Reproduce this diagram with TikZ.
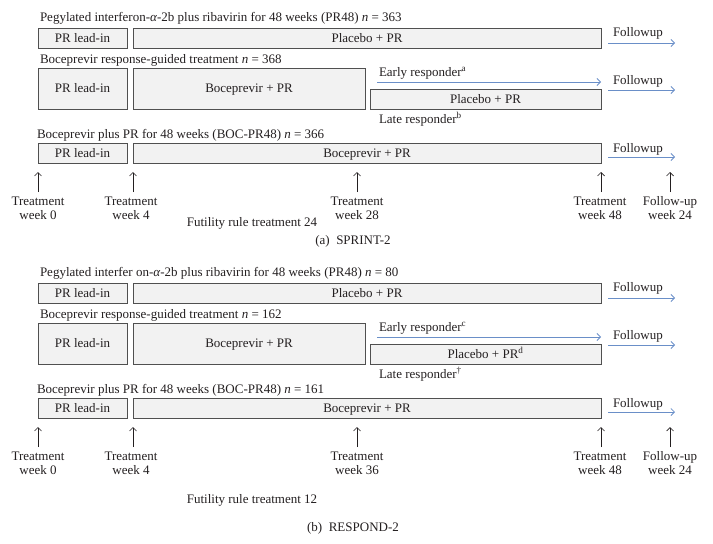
\documentclass[tikz,border=0pt]{standalone}
\usepackage{fontspec}
\setmainfont{Liberation Serif}
\usetikzlibrary{arrows.meta}
\definecolor{boxfill}{HTML}{F2F2F2}
\definecolor{boxline}{HTML}{505050}
\definecolor{flowblue}{HTML}{6A8FC8}
\definecolor{ink}{HTML}{231F20}
\tikzset{
  every node/.style={text=ink, font=\fontsize{13}{14}\selectfont, inner sep=0pt, outer sep=0pt},
  box/.style={draw=boxline, fill=boxfill, line width=0.9pt, anchor=north west, text height=10pt, text depth=2pt},
  title/.style={anchor=base west},
  lbl/.style={anchor=base west},
  ctr/.style={anchor=base},
  tick/.style={align=center, anchor=base},
  flow/.style={draw=flowblue, line width=0.8pt, -{Straight Barb[length=3.5pt,width=7pt]}},
  upa/.style={draw=ink, line width=0.7pt, -{Straight Barb[length=3.5pt,width=7pt]}}
}
\begin{document}
\begin{tikzpicture}[x=1pt,y=-1pt]
\useasboundingbox (0,0) rectangle (713,544);
% ---------------- panel (a)
\node[title] (a-t1) at (40,21) {Pegylated interferon-\textit{α}-2b plus ribavirin for 48 weeks (PR48) \textit{n} = 363};
\node[box, minimum width=89, minimum height=20] (a-l1) at (38,28) {PR lead-in};
\node[box, minimum width=468, minimum height=20] (a-p1) at (133,28) {Placebo + PR};
\node[lbl] (a-f1) at (613,36) {Followup};
\coordinate (a-f1s) at (608,43); \coordinate (a-f1e) at (675,43);
\draw[flow] (a-f1s) -- (a-f1e);

\node[title] (a-t2) at (40,63) {Boceprevir response-guided treatment \textit{n} = 368};
\node[box, minimum width=89, minimum height=41] (a-l2) at (38,68) {PR lead-in};
\node[box, minimum width=232, minimum height=41] (a-b2) at (133,68) {Boceprevir + PR};
\node[lbl] (a-er) at (379,76) {Early responder\textsuperscript{a}};
\coordinate (a-ers) at (377,82); \coordinate (a-ere) at (601,82);
\draw[flow] (a-ers) -- (a-ere);
\node[box, minimum width=231, minimum height=20] (a-p2) at (370,89) {Placebo + PR};
\node[lbl] (a-lr) at (379,123) {Late responder\textsuperscript{b}};
\node[lbl] (a-f2) at (613,84) {Followup};
\coordinate (a-f2s) at (608,90); \coordinate (a-f2e) at (675,90);
\draw[flow] (a-f2s) -- (a-f2e);

\node[title] (a-t3) at (37,138) {Boceprevir plus PR for 48 weeks (BOC-PR48) \textit{n} = 366};
\node[box, minimum width=89, minimum height=20] (a-l3) at (38,143) {PR lead-in};
\node[box, minimum width=468, minimum height=20] (a-b3) at (133,143) {Boceprevir + PR};
\node[lbl] (a-f3) at (613,152) {Followup};
\coordinate (a-f3s) at (608,157); \coordinate (a-f3e) at (675,157);
\draw[flow] (a-f3s) -- (a-f3e);

\node[tick] (a-w0) at (38,219) {Treatment\\week 0};
\node[tick] (a-w4) at (131,219) {Treatment\\week 4};
\node[tick] (a-w28) at (357,219) {Treatment\\week 28};
\node[tick] (a-w48) at (600,219) {Treatment\\week 48};
\node[tick] (a-fu) at (670,219) {Follow-up\\week 24};
\foreach \n/\x in {w0/38,w4/133,w28/357,w48/601,fu/670}{
  \coordinate (a-\n-s) at (\x,192); \coordinate (a-\n-e) at (\x,172);
  \draw[upa] (a-\n-s) -- (a-\n-e);
}
\node[ctr] (a-fut) at (252,226) {Futility rule treatment 24};
\node[ctr] (a-cap) at (353,244) {(a)\ \ SPRINT-2};

% ---------------- panel (b)
\begin{scope}[yshift=-255pt]
\node[title] (b-t1) at (40,21) {Pegylated interfer on-\textit{α}-2b plus ribavirin for 48 weeks (PR48) \textit{n} = 80};
\node[box, minimum width=89, minimum height=20] (b-l1) at (38,28) {PR lead-in};
\node[box, minimum width=468, minimum height=20] (b-p1) at (133,28) {Placebo + PR};
\node[lbl] (b-f1) at (613,36) {Followup};
\coordinate (b-f1s) at (608,43); \coordinate (b-f1e) at (675,43);
\draw[flow] (b-f1s) -- (b-f1e);

\node[title] (b-t2) at (40,63) {Boceprevir response-guided treatment \textit{n} = 162};
\node[box, minimum width=89, minimum height=41] (b-l2) at (38,68) {PR lead-in};
\node[box, minimum width=232, minimum height=41] (b-b2) at (133,68) {Boceprevir + PR};
\node[lbl] (b-er) at (379,76) {Early responder\textsuperscript{c}};
\coordinate (b-ers) at (377,82); \coordinate (b-ere) at (601,82);
\draw[flow] (b-ers) -- (b-ere);
\node[box, minimum width=231, minimum height=20] (b-p2) at (370,89) {Placebo + PR\textsuperscript{d}};
\node[lbl] (b-lr) at (379,123) {Late responder\textsuperscript{†}};
\node[lbl] (b-f2) at (613,84) {Followup};
\coordinate (b-f2s) at (608,90); \coordinate (b-f2e) at (675,90);
\draw[flow] (b-f2s) -- (b-f2e);

\node[title] (b-t3) at (37,138) {Boceprevir plus PR for 48 weeks (BOC-PR48) \textit{n} = 161};
\node[box, minimum width=89, minimum height=20] (b-l3) at (38,143) {PR lead-in};
\node[box, minimum width=468, minimum height=20] (b-b3) at (133,143) {Boceprevir + PR};
\node[lbl] (b-f3) at (613,152) {Followup};
\coordinate (b-f3s) at (608,157); \coordinate (b-f3e) at (675,157);
\draw[flow] (b-f3s) -- (b-f3e);

\node[tick] (b-w0) at (38,219) {Treatment\\week 0};
\node[tick] (b-w4) at (131,219) {Treatment\\week 4};
\node[tick] (b-w36) at (357,219) {Treatment\\week 36};
\node[tick] (b-w48) at (600,219) {Treatment\\week 48};
\node[tick] (b-fu) at (670,219) {Follow-up\\week 24};
\foreach \n/\x in {w0/38,w4/133,w36/357,w48/601,fu/670}{
  \coordinate (b-\n-s) at (\x,192); \coordinate (b-\n-e) at (\x,172);
  \draw[upa] (b-\n-s) -- (b-\n-e);
}
\node[ctr] (b-fut) at (252,248) {Futility rule treatment 12};
\node[ctr] (b-cap) at (353,276) {(b)\ \ RESPOND-2};
\end{scope}
\end{tikzpicture}
\end{document}
